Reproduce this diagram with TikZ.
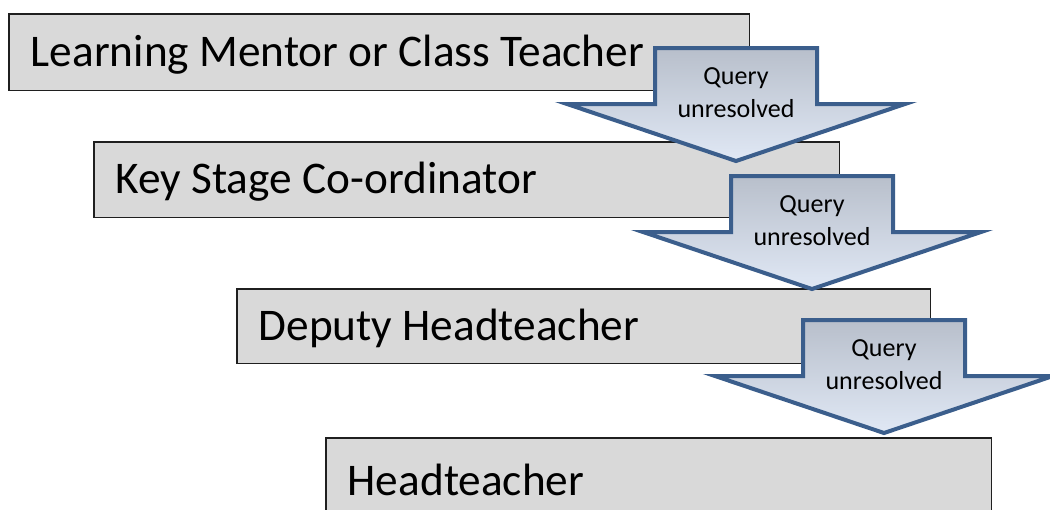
\documentclass[tikz,border=0pt]{standalone}
\usepackage{fontspec}
\setmainfont{Carlito}
\definecolor{boxfill}{HTML}{D9D9D9}
\definecolor{boxline}{HTML}{1F1F1F}
\definecolor{arrline}{HTML}{3B5E8C}
\definecolor{arrtop}{HTML}{B8BFCB}
\definecolor{arrmid}{HTML}{C5D4EE}
\definecolor{arrbot}{HTML}{E0E8F5}
\begin{document}
\begin{tikzpicture}[x=1pt,y=-1pt,
  levelbox/.style={draw=boxline, fill=boxfill, line width=1.5pt, anchor=west,
    font=\fontsize{45.3}{54}\selectfont, text height=28.6pt, text depth=0pt,
    inner xsep=22pt, inner ysep=0pt},
  blockarrow/.style={draw=arrline, line width=4pt, line join=miter,
    top color=arrtop, middle color=arrmid, bottom color=arrbot},
  qlabel/.style={font=\fontsize{26}{31}\selectfont, anchor=base, inner sep=0pt}]
\useasboundingbox (0,0) rectangle (1050,509);
\clip (0,0) rectangle (1050,509);
\node[levelbox, minimum height=76.5pt] (l1) at (8,52) {\makebox[696.5pt][l]{Learning Mentor or Class Teacher}};
\node[levelbox, minimum height=75.5pt] (l2) at (93,179.5) {\makebox[701.5pt][l]{Key Stage Co-ordinator}};
\node[levelbox, minimum height=74.5pt] (l3) at (236,326) {\makebox[649.5pt][l]{Deputy Headteacher}};
\node[levelbox, minimum height=86pt] (l4) at (325,481) {\makebox[621.5pt][l]{Headteacher}};
\foreach \cx/\ty/\n in {736/46/1, 812/174/2, 884/318/3} {
  \draw[blockarrow] (\cx-81,\ty+2) -- (\cx+81,\ty+2) -- (\cx+81,\ty+58) -- (\cx+169,\ty+58)
    -- (\cx,\ty+115) -- (\cx-169,\ty+58) -- (\cx-81,\ty+58) -- cycle;
  \node[qlabel] (qa\n) at (\cx,\ty+38.5) {Query};
  \node[qlabel] (qb\n) at (\cx,\ty+71) {unresolved};
}
\end{tikzpicture}
\end{document}
